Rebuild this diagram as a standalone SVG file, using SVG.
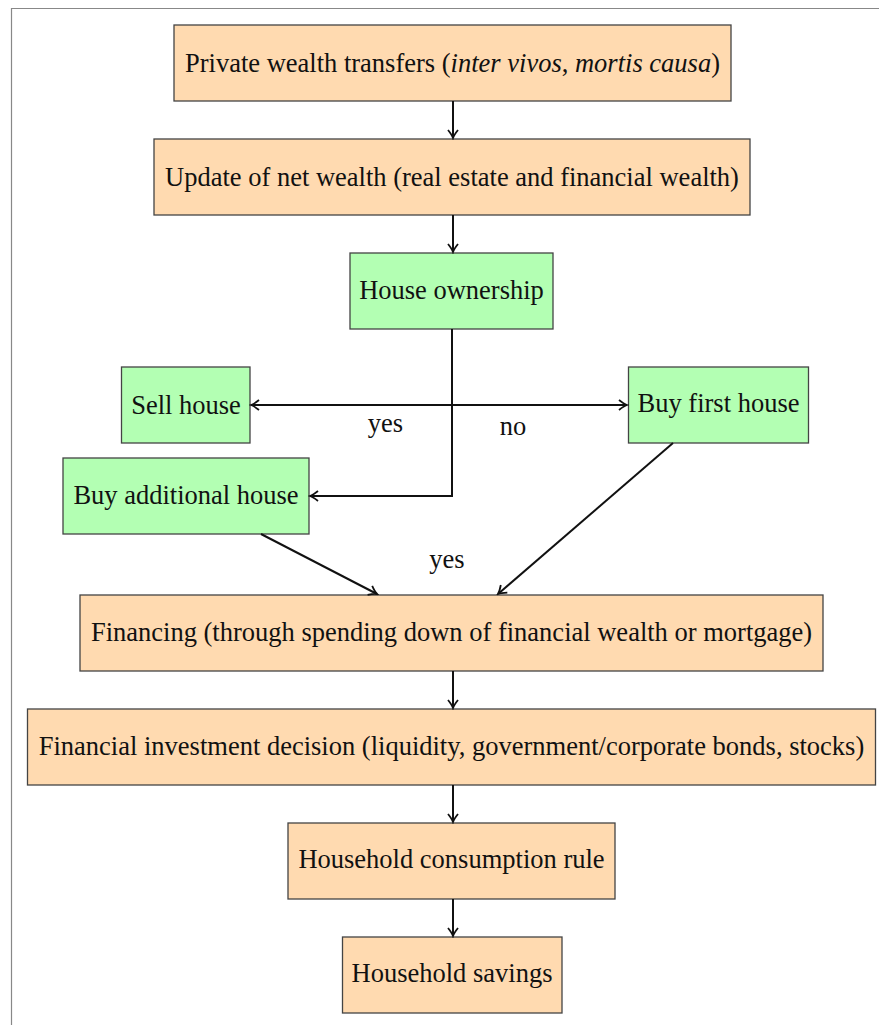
<svg xmlns="http://www.w3.org/2000/svg" width="879" height="1025" viewBox="0 0 879 1025">
<style>
.b{stroke:#444;stroke-width:1.3}
.o{fill:#ffdab0}
.g{fill:#b3ffb3}
text{font-family:"Liberation Serif","Times New Roman",serif;font-size:26.5px;fill:#111;text-anchor:middle}
.c{fill:none;stroke:#111;stroke-width:2;marker-end:url(#ah)}
</style>
<defs>
<marker id="ah" viewBox="-10 -6 12 12" markerWidth="12" markerHeight="12" refX="0" refY="0" orient="auto-start-reverse" markerUnits="userSpaceOnUse">
<path d="M-8,-5 Q-3,-1 0,0 Q-3,1 -8,5" fill="none" stroke="#111" stroke-width="1.8"/>
</marker>
</defs>
<g id="frame" stroke="#888" stroke-width="1.2" fill="none">
<path d="M11.5,1025 V8.5 H879"/>
</g>
<g id="n1"><rect class="b o" x="174" y="25" width="557" height="76"/><text x="452.5" y="72">Private wealth transfers (<tspan font-style="italic">inter vivos</tspan>, <tspan font-style="italic">mortis causa</tspan>)</text></g>
<g id="n2"><rect class="b o" x="154" y="139" width="596" height="76"/><text x="452" y="186">Update of net wealth (real estate and financial wealth)</text></g>
<g id="n3"><rect class="b g" x="350" y="253" width="203" height="76"/><text x="451.5" y="299">House ownership</text></g>
<g id="n4"><rect class="b g" x="121.5" y="367" width="128.5" height="76"/><text x="186" y="414">Sell house</text></g>
<g id="n5"><rect class="b g" x="628.5" y="367" width="180" height="76"/><text x="718.5" y="412">Buy first house</text></g>
<g id="n6"><rect class="b g" x="63" y="458" width="246" height="76"/><text x="186" y="504">Buy additional house</text></g>
<g id="n7"><rect class="b o" x="80" y="595" width="743" height="76"/><text x="451.5" y="641">Financing (through spending down of financial wealth or mortgage)</text></g>
<g id="n8"><rect class="b o" x="27.5" y="709" width="848" height="76"/><text x="451.5" y="755">Financial investment decision (liquidity, government/corporate bonds, stocks)</text></g>
<g id="n9"><rect class="b o" x="288" y="823" width="327" height="76"/><text x="451.5" y="868">Household consumption rule</text></g>
<g id="n10"><rect class="b o" x="342.5" y="937" width="219.5" height="76"/><text x="452" y="982">Household savings</text></g>
<g id="connectors">
<path class="c" d="M453,101 V138"/>
<path class="c" d="M453,215 V252"/>
<path class="c" d="M452,329 V496 H310"/>
<path class="c" d="M251,405 H627" marker-start="url(#ah)"/>
<path class="c" d="M261,534 L377,594"/>
<path class="c" d="M673,443 L498,594"/>
<path class="c" d="M453,671 V708"/>
<path class="c" d="M453,785 V822"/>
<path class="c" d="M453,899 V936"/>
<text x="385.5" y="432">yes</text>
<text x="513" y="435">no</text>
<text x="447" y="568">yes</text>
</g>
</svg>
